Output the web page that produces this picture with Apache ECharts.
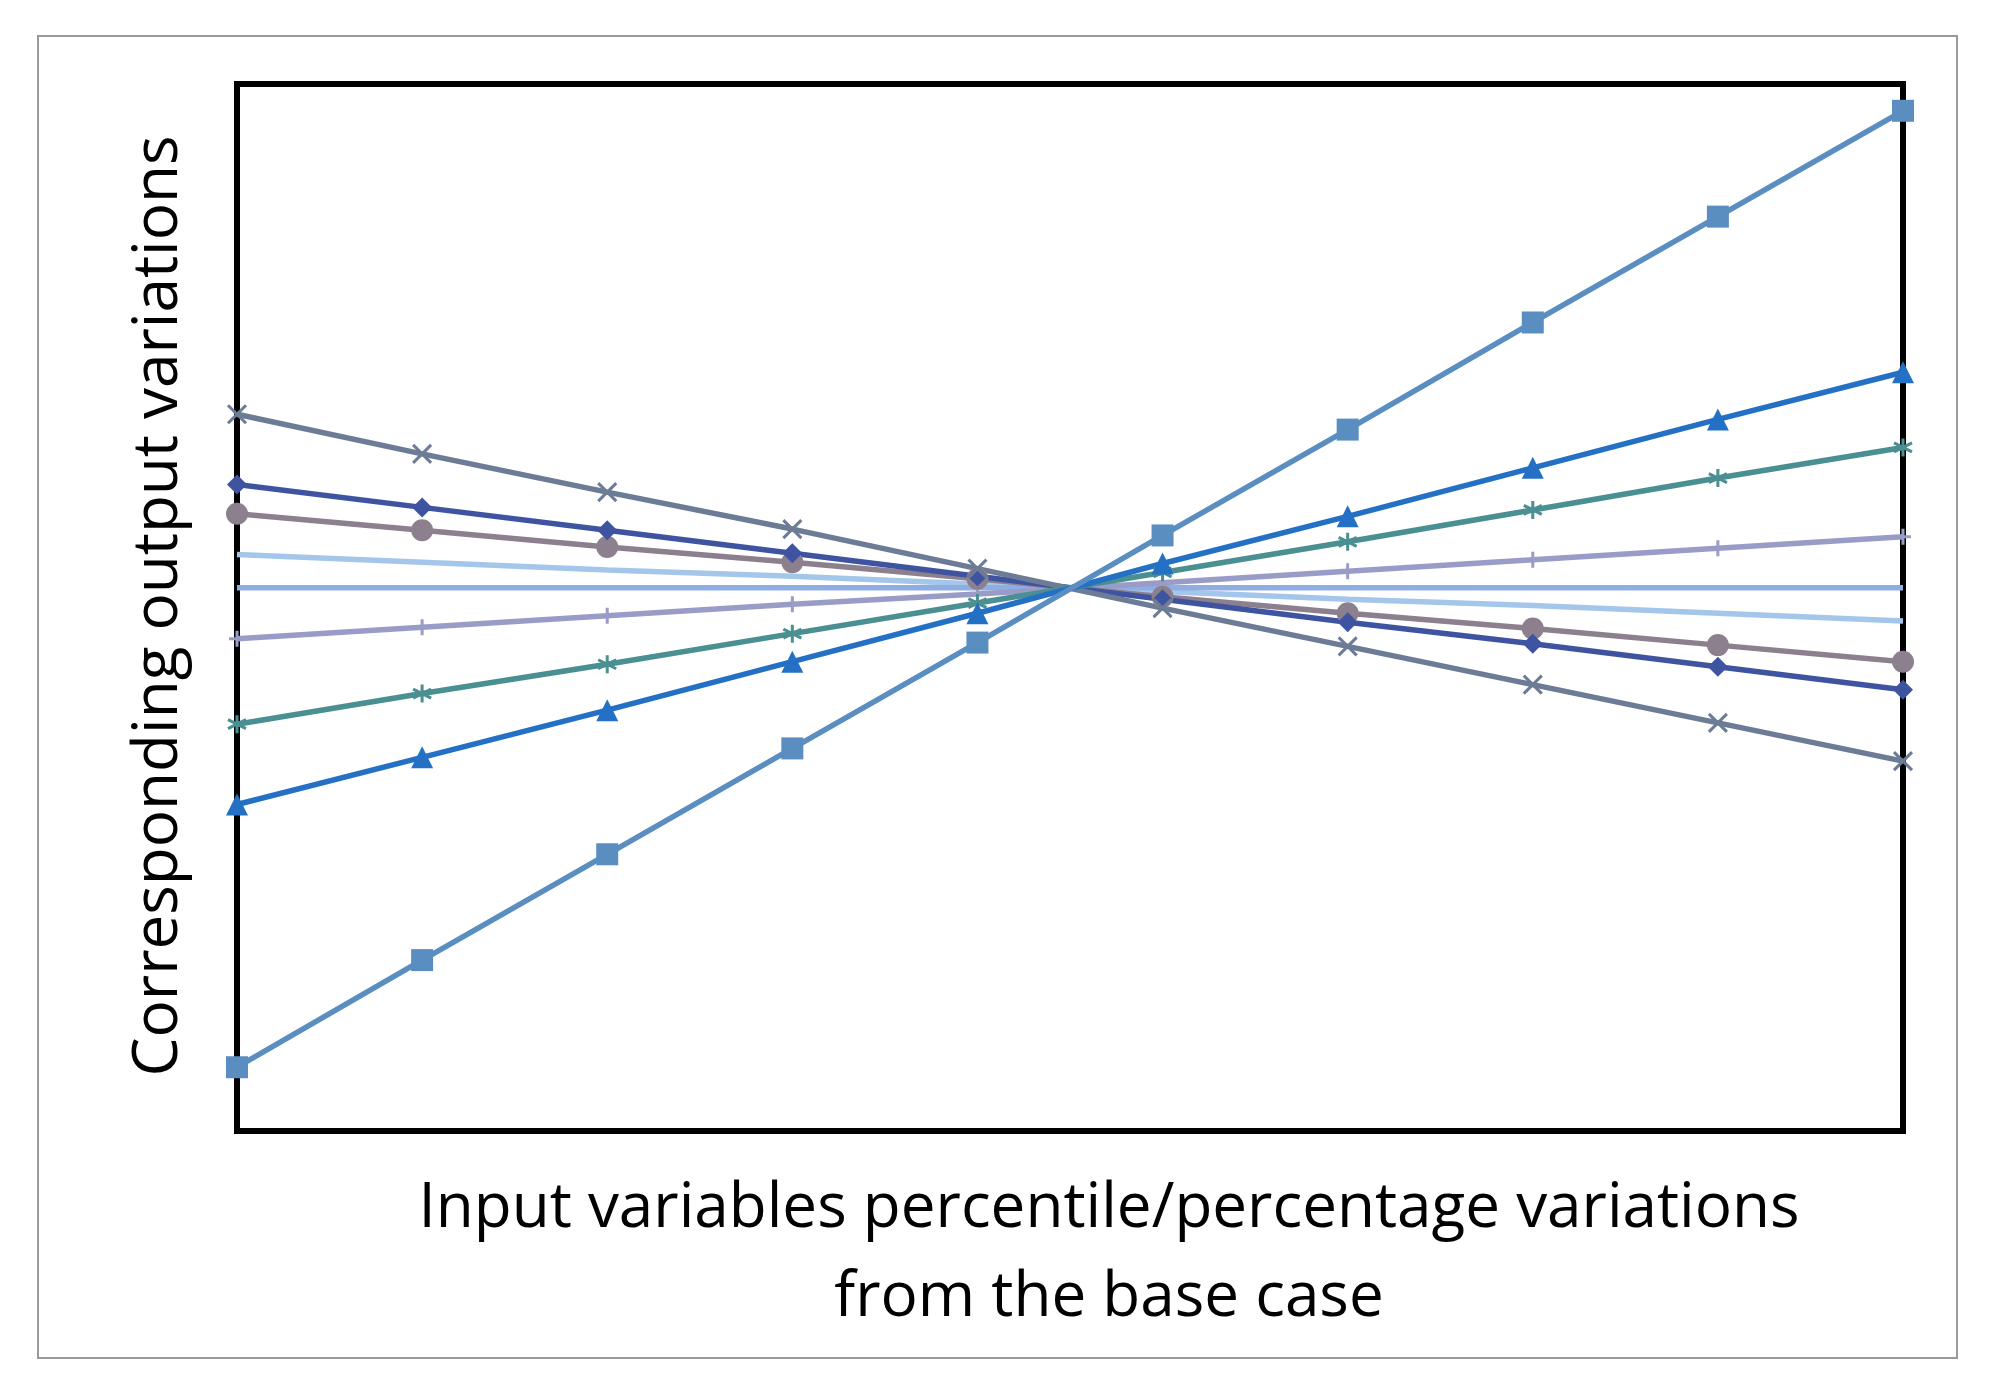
<!DOCTYPE html>
<html><head><meta charset="utf-8">
<script src="https://cdn.jsdelivr.net/npm/echarts@6/dist/echarts.min.js"></script>
<style>html,body{margin:0;background:#fff}#c{width:1989px;height:1384px}</style>
</head><body><div id="c"></div>
<script>
var xs = [0, 1, 2, 3, 4, 5, 6, 7, 8, 9];
var squareVals = [-376, -292, -209, -126, -43, 41, 124, 208, 291, 374];
var triangleVals = [-170, -133, -96, -58, -20, 19, 56, 94, 132, 169];
var starVals = [-107, -83, -60, -36, -12, 12, 36, 61, 86, 110];
var plusVals = [-40, -31, -22, -13, -5, 4, 13, 22, 31, 40];
var flatVals = [0, 0, 0, 0, 0, 0, 0, 0, 0, 0];
var lightVals = [26, 20, 14, 9, 3, -3, -9, -14, -20, -26];
var circleVals = [58, 45, 32, 20, 7, -7, -20, -32, -45, -58];
var diamondVals = [81, 63, 45, 27, 9, -9, -27, -44, -62, -80];
var crossVals = [136, 105, 75, 46, 15, -16, -46, -76, -106, -136];

var crossPath = 'path://M0,0L10,10M10,0L0,10';
var starPath = 'path://M5,0L5,10M0,2.5L10,7.5M0,7.5L10,2.5';
var plusPath = 'path://M5,0L5,10M0,5L10,5';

function mk(name, vals, color, symbol, size, stroke) {
  return {
    name: name, type: 'line', data: xs.map(function (x, i) { return [x, vals[i]]; }),
    lineStyle: { color: color, width: 5.5 },
    itemStyle: stroke ? { color: 'none', borderColor: color, borderWidth: 3 } : { color: color },
    symbol: symbol, symbolSize: size, showSymbol: symbol !== 'none'
  };
}

var chart = echarts.init(document.getElementById('c'));
chart.setOption({
  animation: false,
  grid: { left: 237, right: 86, top: 84, bottom: 253, show: true, borderColor: '#000', borderWidth: 6 },
  xAxis: { type: 'value', min: 0, max: 9, show: false },
  yAxis: { type: 'value', min: -426, max: 395, show: false },
  graphic: [
    { type: 'rect', shape: { x: 38, y: 36, width: 1919, height: 1322 }, style: { fill: 'none', stroke: '#999', lineWidth: 2 } },
    { type: 'text', x: 159, y: 606, rotation: Math.PI / 2, style: { text: 'Corresponding output variations', font: '62px "Open Sans"', fill: '#000', textAlign: 'center', textVerticalAlign: 'middle' } },
    { type: 'text', x: 1109, y: 1209, style: { text: 'Input variables percentile/percentage variations', font: '62px "Open Sans"', fill: '#000', textAlign: 'center', textVerticalAlign: 'middle' } },
    { type: 'text', x: 1109, y: 1298, style: { text: 'from the base case', font: '62px "Open Sans"', fill: '#000', textAlign: 'center', textVerticalAlign: 'middle' } }
  ],
  series: [
    mk('light', lightVals, '#A3C6EA', 'none', 0),
    mk('flat', flatVals, '#8FADE2', 'none', 0),
    mk('plus', plusVals, '#9A9CC8', plusPath, 16, true),
    mk('circle', circleVals, '#8C7F8E', 'circle', 22),
    mk('diamond', diamondVals, '#3F54A0', 'diamond', 20),
    mk('cross', crossVals, '#6C7C96', crossPath, 18, true),
    mk('star', starVals, '#4A8F91', starPath, 18, true),
    mk('triangle', triangleVals, '#2370C4', 'triangle', 22),
    mk('square', squareVals, '#5A8EC0', 'rect', 22)
  ]
});
</script></body></html>
